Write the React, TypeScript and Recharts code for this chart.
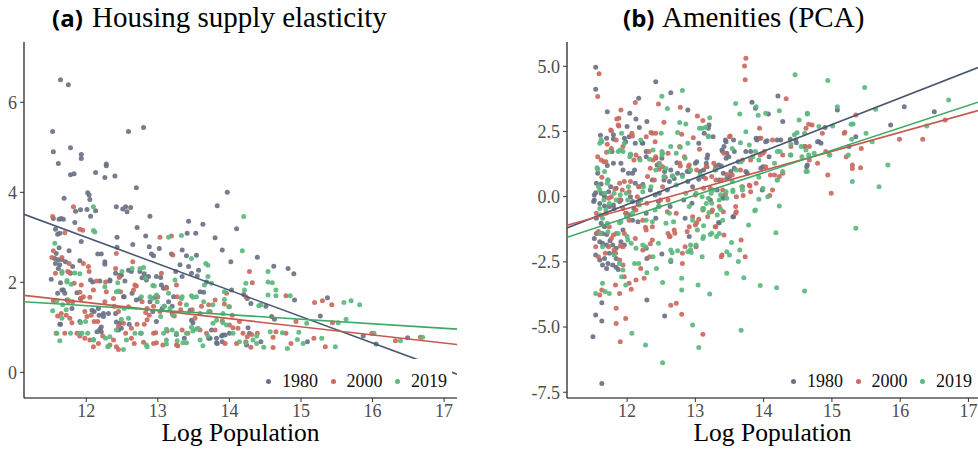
import { ScatterChart, Scatter, XAxis, YAxis, Legend } from 'recharts';

type Pt = [number, number];

// (a) Housing supply elasticity vs log population
const supply1980: Pt[] = [
  [11.64, 6.5], [11.75, 6.39], [11.53, 5.35], [12.8, 5.44], [12.59, 5.35], [11.54, 4.9], [11.78, 4.99], [11.61, 4.64],
  [11.93, 4.84], [11.93, 4.75], [12.28, 4.63], [12.28, 4.59], [12.13, 4.44], [11.78, 4.39], [11.83, 4.41], [12.26, 4.33],
  [12.4, 4.36], [12.7, 4.1], [12.02, 3.99], [12.04, 3.94], [12.05, 3.84], [11.69, 3.87], [13.97, 4.0], [13.83, 3.7],
  [12.42, 3.68], [12.51, 3.63], [12.55, 3.68], [12.62, 3.66], [12.57, 3.57], [11.85, 3.58], [11.92, 3.61], [12.01, 3.62],
  [12.13, 3.59], [12.06, 3.47], [12.89, 3.47], [11.84, 3.33], [11.54, 3.42], [11.62, 3.4], [11.68, 3.4], [11.65, 3.42],
  [11.57, 3.18], [11.6, 3.07], [11.63, 3.09], [12.71, 3.22], [13.43, 3.36], [13.63, 3.29], [13.53, 3.09], [13.41, 3.09],
  [14.1, 3.19], [13.8, 2.99], [12.83, 3.03], [12.43, 3.0], [11.93, 2.91], [11.62, 2.77], [11.76, 2.7], [12.16, 2.63],
  [12.21, 2.63], [12.65, 2.84], [12.43, 2.78], [12.88, 2.79], [13.02, 2.75], [13.34, 2.72], [13.9, 2.72], [13.19, 2.63],
  [12.91, 2.63], [12.94, 2.59], [13.4, 2.59], [13.54, 2.6], [14.39, 2.56], [14.02, 2.46], [11.58, 2.64], [11.56, 2.53],
  [11.61, 2.5], [11.66, 2.51], [11.71, 2.46], [11.57, 2.42], [11.63, 2.39], [11.61, 2.31], [11.81, 2.35], [11.78, 2.2],
  [11.51, 2.07], [12.26, 2.46], [12.26, 2.4], [11.91, 2.48], [13.43, 2.35], [13.31, 2.39], [13.57, 2.27], [13.47, 2.2],
  [13.55, 2.14], [13.34, 2.13], [13.25, 2.24], [14.62, 2.36], [14.82, 2.31], [14.9, 2.19], [13.68, 2.01], [13.59, 1.79],
  [13.64, 1.78], [12.41, 2.2], [12.49, 2.16], [12.54, 2.03], [12.59, 2.27], [12.75, 2.24], [12.78, 2.1], [12.81, 2.19],
  [12.84, 2.05], [12.87, 2.13], [12.98, 2.13], [13.04, 2.11], [13.05, 1.94], [13.12, 1.89], [12.06, 2.05], [12.09, 2.01],
  [12.19, 2.03], [12.33, 2.03], [11.64, 1.99], [11.66, 1.83], [11.6, 1.76], [11.7, 1.76], [11.87, 1.77], [11.92, 1.64],
  [11.73, 1.61], [12.64, 1.76], [12.75, 1.64], [12.53, 1.68], [14.03, 1.83], [14.25, 1.64], [14.3, 1.53], [14.2, 1.73],
  [14.51, 1.47], [14.91, 1.61], [15.37, 1.66], [15.27, 1.25], [14.59, 1.24], [14.63, 1.18], [13.2, 1.47], [13.15, 1.57],
  [12.93, 1.35], [13.06, 1.42], [12.31, 1.31], [12.11, 1.35], [12.18, 1.27], [12.24, 1.24], [12.41, 1.31], [11.91, 1.13],
  [11.64, 1.07], [13.47, 1.16], [13.49, 1.1], [13.75, 0.94], [13.82, 0.76], [14.26, 0.99], [14.28, 0.87], [13.91, 0.83],
  [14.0, 0.87], [13.71, 0.76], [13.83, 0.64], [13.9, 0.68], [14.44, 0.68], [14.24, 0.61], [15.09, 0.68], [15.87, 0.81],
  [16.05, 0.63], [16.49, 0.77], [12.19, 0.96], [12.21, 0.9], [12.47, 1.09], [12.6, 1.07], [12.45, 0.94], [12.76, 0.87],
  [12.98, 1.13], [13.37, 0.76], [12.21, 1.01], [12.15, 0.9], [11.63, 1.07], [12.42, 1.12], [12.49, 0.98], [12.7, 1.61],
  [12.52, 1.68], [12.96, 1.67], [13.08, 1.87], [12.89, 1.57], [13.22, 1.68], [13.26, 0.84], [13.82, 0.66], [13.89, 0.81],
  [13.94, 0.83], [13.73, 0.76], [13.45, 1.38], [12.17, 1.42], [12.24, 1.31], [12.84, 2.11], [12.47, 2.16], [12.63, 2.24],
  [11.8, 1.42], [12.08, 1.38], [12.33, 2.05], [11.68, 1.83],
];

const supply2000: Pt[] = [
  [11.53, 3.46], [11.82, 3.68], [11.7, 3.1], [11.91, 3.18], [11.95, 3.16], [11.54, 2.7], [11.52, 2.55], [11.66, 2.55],
  [11.76, 2.42], [11.57, 2.2], [11.74, 2.24], [11.77, 2.22], [11.96, 2.42], [12.03, 2.35], [12.04, 2.24], [12.14, 2.03],
  [11.83, 1.98], [11.93, 1.94], [11.91, 1.78], [11.96, 1.68], [12.05, 1.67], [11.93, 1.64], [12.1, 1.83], [11.54, 1.59],
  [11.81, 1.57], [11.75, 1.57], [11.65, 1.31], [11.6, 1.25], [11.72, 1.27], [11.98, 1.35], [12.07, 1.27], [12.01, 1.24],
  [11.8, 1.1], [12.11, 1.13], [12.16, 1.13], [11.77, 1.2], [11.58, 0.87], [11.7, 0.87], [11.91, 0.81], [11.98, 0.76],
  [12.05, 0.72], [12.1, 0.57], [11.87, 0.87], [12.42, 2.64], [12.41, 2.31], [12.46, 2.11], [12.27, 2.01], [12.48, 1.79],
  [12.38, 1.64], [12.28, 1.79], [12.26, 1.57], [12.39, 1.47], [12.45, 1.35], [12.59, 1.46], [12.65, 2.46], [12.68, 1.94],
  [12.7, 1.92], [12.66, 1.83], [12.78, 1.57], [12.85, 1.42], [12.83, 1.33], [12.88, 1.27], [13.03, 3.0], [13.19, 3.03],
  [13.05, 2.2], [13.21, 2.61], [13.26, 1.94], [13.27, 1.68], [13.12, 1.87], [13.0, 1.68], [12.94, 1.47], [13.03, 1.35],
  [13.09, 1.47], [13.2, 1.31], [13.23, 1.25], [13.31, 1.53], [13.32, 1.39], [13.48, 1.39], [13.52, 1.2], [13.59, 1.31],
  [13.71, 1.5], [13.8, 1.61], [13.73, 1.35], [13.93, 1.52], [14.0, 1.46], [14.04, 1.27], [13.96, 1.76], [14.23, 1.68],
  [14.28, 2.24], [14.32, 1.99], [14.14, 1.13], [14.12, 0.98], [14.05, 0.99], [14.19, 0.87], [14.31, 0.84], [14.39, 0.87],
  [14.25, 0.79], [14.23, 0.68], [14.3, 0.56], [14.1, 0.64], [12.45, 1.03], [12.52, 1.09], [12.63, 0.98], [12.71, 1.07],
  [12.81, 1.07], [12.85, 1.17], [12.97, 0.88], [13.13, 0.92], [13.34, 0.94], [13.42, 0.87], [12.38, 0.72], [12.33, 0.61],
  [12.42, 0.57], [12.45, 0.51], [12.55, 0.87], [12.63, 0.76], [12.67, 0.64], [12.8, 0.67], [12.94, 0.87], [12.94, 0.64],
  [13.07, 0.61], [13.26, 0.61], [13.59, 0.94], [13.68, 0.87], [13.8, 0.94], [13.9, 1.14], [14.0, 1.05], [12.23, 0.81],
  [12.17, 0.64], [14.61, 0.78], [14.65, 0.9], [14.61, 0.55], [14.79, 1.7], [14.79, 0.87], [14.93, 1.13], [15.19, 1.55],
  [15.3, 1.59], [15.43, 1.5], [15.44, 1.1], [15.18, 0.76], [15.34, 0.57], [14.86, 0.64], [15.99, 0.87], [16.32, 0.7],
  [16.67, 0.78], [12.98, 0.66], [13.28, 0.59], [13.94, 0.64], [13.61, 1.47],
];

const supply2019: Pt[] = [
  [12.1, 3.68], [12.1, 3.15], [12.12, 3.12], [14.2, 3.46], [13.33, 3.04], [13.15, 3.0], [14.18, 2.7], [13.47, 2.53],
  [13.67, 2.42], [13.7, 2.38], [12.8, 2.33], [12.64, 2.31], [14.54, 2.24], [14.6, 1.99], [14.54, 2.01], [14.65, 1.83],
  [14.54, 1.72], [14.65, 1.7], [14.85, 1.7], [14.23, 1.98], [14.21, 1.83], [14.44, 1.5], [14.41, 1.48], [15.6, 1.55],
  [15.7, 1.59], [15.82, 1.5], [15.63, 1.18], [15.52, 1.1], [15.08, 1.09], [14.97, 0.89], [14.95, 0.73], [15.03, 0.64],
  [15.29, 0.76], [15.48, 0.57], [16.02, 0.87], [16.39, 0.7], [16.7, 0.78], [14.81, 0.53], [14.74, 0.88], [14.57, 0.9],
  [14.48, 0.56], [11.56, 2.87], [11.66, 2.2], [11.73, 2.01], [11.79, 1.96], [11.91, 2.19], [11.53, 1.37], [11.59, 1.59],
  [11.67, 1.5], [11.75, 1.61], [11.72, 1.39], [11.66, 1.2], [11.92, 1.1], [11.99, 1.13], [11.59, 0.87], [11.63, 0.7],
  [11.78, 0.87], [11.94, 0.87], [12.02, 0.87], [12.1, 0.72], [12.27, 0.76], [12.3, 0.57], [12.33, 0.79], [12.42, 1.79],
  [12.44, 1.99], [12.5, 2.24], [12.53, 1.42], [12.59, 1.2], [12.49, 1.18], [12.42, 0.94], [12.52, 0.51], [12.56, 0.72],
  [12.68, 0.87], [12.77, 0.87], [12.85, 0.57], [12.77, 1.68], [12.83, 2.09], [12.93, 1.93], [12.98, 1.72], [12.92, 1.64],
  [12.99, 1.57], [13.09, 1.47], [13.17, 1.42], [13.04, 1.24], [13.21, 1.27], [13.34, 1.68], [13.4, 1.5], [13.47, 1.7],
  [13.54, 1.68], [13.65, 1.94], [13.7, 2.13], [13.64, 1.57], [13.77, 1.5], [13.71, 1.35], [13.93, 1.62], [13.91, 1.31],
  [13.99, 1.46], [13.82, 1.16], [13.77, 1.09], [13.91, 1.1], [13.96, 1.05], [14.05, 0.87], [13.47, 1.0], [13.53, 0.96],
  [13.56, 0.98], [13.4, 0.87], [13.26, 0.87], [13.12, 0.96], [13.2, 0.94], [13.08, 0.87], [13.12, 0.72], [13.63, 0.59],
  [13.35, 0.66], [13.27, 0.7], [13.59, 0.72], [13.7, 0.81], [14.14, 0.68], [14.33, 0.72], [14.38, 0.64], [14.23, 0.66],
  [14.38, 0.81], [11.73, 2.04], [11.66, 2.24], [11.84, 2.21], [12.26, 1.9], [12.45, 1.81], [12.75, 2.31], [12.89, 1.68],
  [12.95, 1.92], [13.24, 2.05], [13.15, 1.76], [13.49, 1.67], [13.75, 1.98], [13.93, 1.79], [13.33, 1.64], [11.91, 0.87],
  [12.1, 0.73], [12.31, 0.58], [12.84, 0.61], [13.12, 0.63], [13.4, 0.66], [13.49, 0.92],
];

// (b) Amenities (PCA) vs log population
const amen1980: Pt[] = [
  [11.54, 4.96], [11.54, 4.12], [11.5, -5.37], [11.54, -4.54], [11.63, -4.77], [11.63, -7.16], [11.63, -4.07], [12.42, 4.41],
  [12.64, 3.98], [12.17, 3.77], [11.71, 3.26], [12.04, 3.2], [12.13, 2.98], [12.89, 3.32], [12.18, 2.65], [12.0, 2.69],
  [11.61, 2.35], [11.7, 2.24], [11.8, 2.37], [11.98, 2.11], [12.03, 2.3], [12.23, 2.05], [12.28, 1.73], [12.28, 1.53],
  [11.91, 1.28], [11.8, 1.28], [11.71, 1.19], [12.02, 0.9], [12.08, 0.9], [12.11, 1.02], [12.12, 0.51], [12.23, 0.47],
  [11.94, 1.02], [11.57, 0.9], [11.72, 0.64], [11.55, 0.51], [11.62, 0.49], [11.52, 0.06], [11.62, 0.13], [11.67, 0.0],
  [11.73, 0.19], [11.76, 0.38], [11.84, 0.32], [11.91, -0.13], [11.51, -0.19], [11.6, -0.26], [11.67, -0.36], [11.74, -0.38],
  [11.81, -0.45], [11.89, -0.19], [12.08, -0.19], [12.16, -0.26], [12.19, -0.13], [12.28, -0.64], [12.08, -0.9], [12.16, -0.96],
  [12.03, -0.7], [11.98, -0.64], [11.55, -0.83], [11.62, -1.02], [11.67, -1.15], [11.55, -1.41], [11.64, -1.41], [11.7, -1.45],
  [11.52, -1.6], [11.6, -1.73], [11.64, -1.79], [11.7, -1.85], [11.75, -1.69], [11.79, -1.85], [11.84, -1.98], [11.81, -2.17],
  [11.74, -2.17], [11.54, -2.24], [11.6, -2.43], [11.67, -2.37], [11.72, -2.56], [11.64, -2.62], [11.79, -2.62], [11.84, -2.71],
  [11.87, -2.79], [11.7, -2.75], [11.84, -2.37], [11.91, -1.73], [11.94, -1.28], [11.96, -1.85], [12.29, -2.37], [12.28, -1.98],
  [12.29, -3.96], [12.55, -4.58], [12.51, -2.2], [12.64, -2.49], [12.91, -1.53], [12.85, -0.83], [12.42, -0.83], [12.41, 0.06],
  [12.47, 0.13], [12.44, 1.21], [12.55, 0.96], [12.64, 1.02], [12.54, 0.64], [12.62, 0.58], [12.69, 0.7], [12.74, 0.9],
  [12.81, 0.83], [12.89, 0.58], [12.91, 0.96], [12.96, 0.38], [13.0, 1.28], [13.07, 0.96], [13.11, 0.77], [13.16, 1.28],
  [13.18, 1.6], [13.05, 2.05], [13.2, 2.75], [13.19, 2.62], [13.26, 2.3], [13.13, 2.43], [13.3, 1.15], [13.38, 1.18],
  [13.4, 1.73], [13.42, 1.92], [13.45, 2.11], [13.49, 1.53], [13.45, 1.47], [13.35, 0.64], [13.4, 0.0], [13.5, 0.77],
  [13.52, 0.96], [13.57, 1.09], [13.35, -1.0], [13.55, -0.77], [13.74, 0.96], [13.81, 1.73], [13.83, 3.62], [13.89, 2.24],
  [13.94, 2.24], [14.03, 2.11], [14.08, 1.53], [13.99, 1.15], [14.2, 2.17], [14.25, 2.17], [14.21, 3.86], [14.28, 2.88],
  [14.47, 2.17], [14.6, 1.92], [14.63, 1.15], [14.79, 2.11], [14.84, 2.05], [15.08, 3.32], [15.35, 2.3], [15.25, 1.92],
  [15.86, 2.75], [16.06, 3.45], [16.5, 3.26], [13.74, 1.73], [13.57, 1.73], [12.29, 2.88], [11.8, 2.21], [11.96, 2.24],
  [12.12, 2.05], [12.22, 2.07], [11.78, 1.73], [12.42, 1.47], [12.51, 1.47], [12.37, 0.64], [12.59, 0.26], [12.73, 1.3],
  [12.88, 0.96], [13.02, 1.34], [13.12, 1.02], [13.39, 1.79], [13.46, 1.66], [13.34, 1.21], [13.17, 1.47], [11.52, -0.13],
  [11.66, 0.07], [11.54, 0.15], [11.8, -0.32], [11.88, -0.13], [12.05, 0.0], [12.1, -0.45], [12.17, 0.38], [12.34, 0.26],
  [12.46, -0.19], [12.63, -0.38], [12.83, -0.13], [13.22, -0.13], [13.32, 0.26], [13.41, 0.9], [13.88, 3.39], [14.07, 3.17],
  [14.9, 2.65], [14.81, 2.11], [14.39, 2.2], [14.48, 2.07], [14.05, 2.14], [13.9, 2.17], [13.56, 2.17], [13.44, 2.17],
  [13.17, 1.15], [13.29, 1.02], [13.63, 1.34], [13.76, 0.9], [13.96, 1.09], [14.64, 1.21], [13.46, 0.7], [13.41, -0.06],
  [13.98, 0.26], [13.56, -0.77], [13.34, -1.0], [12.95, -0.25], [13.05, 0.67],
];

const amen2000: Pt[] = [
  [11.59, 4.71], [11.57, 3.84], [13.72, 5.01], [13.74, 5.31], [13.73, 4.48], [12.78, 3.43], [14.33, 3.75], [12.12, 3.61],
  [11.91, 3.32], [11.85, 2.98], [11.76, 2.56], [11.88, 2.71], [12.08, 2.33], [12.35, 2.46], [12.42, 2.43], [12.28, 2.3],
  [12.54, 2.85], [13.03, 3.09], [13.11, 2.92], [12.8, 2.39], [11.71, 2.01], [11.57, 1.53], [11.62, 1.41], [11.69, 1.34],
  [11.7, 1.7], [11.77, 1.85], [11.84, 2.17], [11.94, 1.92], [12.13, 1.6], [12.18, 1.47], [12.32, 1.73], [12.38, 1.41],
  [12.42, 1.53], [12.47, 1.28], [12.52, 1.15], [12.6, 1.66], [12.77, 1.28], [12.84, 1.53], [12.91, 1.21], [13.02, 1.02],
  [13.16, 1.15], [13.42, 1.66], [13.5, 2.3], [13.69, 1.41], [13.94, 2.62], [13.96, 2.24], [13.99, 1.66], [14.13, 2.17],
  [14.28, 1.6], [14.4, 1.92], [14.62, 2.62], [14.67, 1.92], [14.71, 2.75], [14.79, 1.28], [14.86, 2.43], [14.91, 1.73],
  [14.94, 0.83], [14.99, 0.13], [15.18, 2.43], [15.21, 1.53], [15.3, 1.21], [15.3, 1.08], [15.42, 1.11], [15.43, 1.85],
  [15.35, 3.13], [15.99, 2.2], [16.33, 2.2], [16.66, 2.94], [14.01, 1.73], [14.03, 1.15], [14.16, 0.83], [14.23, 0.77],
  [14.28, 0.9], [14.13, 0.26], [13.89, 0.51], [13.79, 0.45], [13.69, 0.38], [13.6, 0.0], [13.6, -0.58], [13.59, -0.64],
  [13.4, 0.26], [13.3, 0.64], [13.35, -0.38], [13.25, -0.51], [13.3, -1.15], [13.18, -0.77], [13.11, -0.51], [12.96, -0.77],
  [12.91, -1.15], [13.01, -1.92], [12.72, -0.64], [12.69, -1.28], [12.62, -1.53], [12.6, -1.41], [12.81, -2.17], [12.81, -2.56],
  [13.38, -2.3], [13.67, -1.66], [13.73, -2.3], [12.33, -2.3], [12.37, -1.66], [12.23, -2.05], [12.2, -2.75], [12.25, -3.13],
  [12.13, -3.2], [12.03, -3.32], [12.06, -3.55], [11.96, -3.07], [11.89, -3.71], [11.83, -3.39], [11.6, -3.77], [11.63, -3.58],
  [11.84, -4.28], [11.84, -4.86], [11.98, -4.67], [11.9, -5.56], [12.64, -4.16], [12.72, -4.09], [12.8, -4.51], [13.11, -5.28],
  [11.94, -0.45], [11.99, -0.64], [12.03, -0.9], [12.13, -0.51], [12.23, -0.9], [12.28, -1.28], [11.96, -1.41], [11.94, -1.92],
  [11.84, -1.41], [11.77, -1.6], [11.74, -1.15], [11.69, -0.64], [11.77, 0.0], [11.89, 0.51], [11.96, 0.58], [12.03, 0.19],
  [12.18, 0.38], [12.3, 0.77], [12.4, 0.64], [12.52, 0.38], [12.6, -0.13], [12.47, -0.38], [12.77, 1.92], [11.55, -0.64],
  [11.57, -1.41], [11.54, -1.92], [11.81, -2.05], [11.68, -2.17], [11.89, -2.43], [11.94, -2.62], [12.46, 3.55], [11.88, 3.01],
  [11.87, 2.75], [11.77, 2.53], [12.37, 2.43], [12.41, 2.11], [12.07, 2.43], [12.97, 2.26], [13.06, 1.82], [11.66, 1.34],
  [11.63, 0.74], [12.05, 1.6], [12.1, 1.41], [12.34, 1.09], [12.47, 1.05], [12.56, 0.74], [12.78, 1.18], [12.9, 1.15],
  [13.15, 0.7], [13.22, 0.32], [13.3, 1.09], [13.39, 0.64], [13.46, 0.85], [13.44, 0.08], [12.05, 0.58], [11.93, 0.26],
  [11.82, 0.3], [11.73, -0.06], [11.9, -0.13], [12.15, 0.0], [12.29, -0.25], [12.49, -0.13], [12.59, -0.58], [12.37, -1.15],
  [12.27, -1.17], [12.63, -1.53], [12.7, -1.4], [12.88, -1.34], [13.02, -1.0], [13.42, -1.47], [13.39, -2.24], [12.85, -1.92],
  [12.34, -1.81], [12.12, -1.6], [11.8, -1.47], [11.58, -1.34], [11.73, -1.92], [11.9, -1.89], [11.83, -2.17], [11.58, -2.3],
  [13.51, 2.33], [14.66, 2.78], [15.19, 2.47], [14.61, 1.92], [14.67, 1.41], [14.1, 0.83], [13.95, 1.6], [13.81, 1.41],
  [13.66, 1.02], [13.54, 0.83], [13.27, 1.28], [13.24, 0.77], [13.12, 0.32], [13.0, 0.06], [13.24, -0.58], [13.41, -0.58],
  [13.8, 0.41], [13.81, 0.19], [14.09, 0.04], [13.7, 0.04], [13.59, -0.38], [13.05, -0.87], [13.0, -1.09], [13.29, -1.15],
  [13.01, -1.89],
];

const amen2019: Pt[] = [
  [14.46, 4.67], [14.94, 4.45], [15.48, 4.19], [12.81, 4.07], [12.51, 3.85], [12.59, 3.38], [13.59, 3.57], [13.65, 3.17],
  [13.89, 3.45], [13.92, 3.12], [14.03, 3.2], [14.64, 3.2], [14.52, 2.94], [14.23, 3.29], [15.08, 3.45], [15.64, 3.35],
  [16.71, 3.71], [13.21, 3.03], [13.06, 2.62], [13.19, 2.33], [12.77, 2.84], [12.86, 2.79], [12.74, 2.46], [12.5, 2.43],
  [12.51, 1.73], [12.38, 1.79], [12.2, 2.17], [12.04, 1.53], [11.94, 1.73], [11.87, 1.73], [11.96, 2.05], [11.74, 1.73],
  [11.63, 2.11], [11.6, 2.05], [11.57, 1.05], [11.67, 0.96], [11.72, 0.64], [11.6, 0.26], [11.67, 0.13], [11.81, 0.13],
  [11.84, -0.13], [11.69, -0.51], [11.64, -0.83], [11.61, -1.41], [11.64, -1.92], [11.54, -3.71], [11.64, -3.32], [11.68, -3.64],
  [11.74, -3.71], [11.81, -2.24], [11.89, -2.56], [11.94, -2.81], [11.92, -3.07], [11.98, -3.39], [12.07, -5.24], [12.27, -5.69],
  [12.52, -6.37], [12.96, -4.92], [13.05, -5.78], [13.04, -3.39], [13.21, -3.73], [12.8, -3.13], [12.8, -3.58], [12.52, -3.29],
  [12.43, -2.75], [12.38, -2.3], [12.29, -2.92], [12.11, -2.56], [12.17, -2.56], [12.13, -1.98], [12.23, -1.85], [12.64, -2.05],
  [12.74, -2.07], [12.64, -2.43], [12.89, -2.11], [12.94, -2.14], [13.1, -2.3], [12.93, -1.85], [13.11, -1.6], [13.22, -1.45],
  [13.46, -2.11], [13.5, -2.24], [13.46, -2.94], [13.63, -2.49], [13.65, -2.05], [13.53, -1.76], [13.71, -3.11], [13.67, -5.12],
  [13.95, -3.41], [14.19, -3.49], [14.6, -3.62], [14.18, -1.38], [14.23, -0.36], [13.87, -0.54], [13.78, -1.09], [13.93, -0.1],
  [13.99, 0.32], [14.06, 0.0], [14.2, 0.64], [14.28, 0.96], [14.16, 1.28], [14.24, 1.73], [14.4, 1.6], [14.4, 2.02],
  [14.45, 2.37], [14.55, 1.92], [14.6, 2.43], [14.62, 1.79], [14.62, 0.96], [14.66, 1.6], [14.81, 2.69], [14.96, 1.6],
  [15.01, 2.71], [15.28, 2.78], [15.29, 2.2], [15.24, 1.6], [15.35, -1.21], [15.3, 0.58], [15.5, 2.43], [15.59, 2.11],
  [15.69, 0.38], [15.82, 1.21], [16.39, 2.71], [13.74, 2.49], [13.79, 1.98], [13.84, 1.53], [13.67, 1.34], [13.6, 1.02],
  [13.54, 0.58], [13.69, 0.26], [13.55, 0.19], [13.45, 0.19], [13.3, 1.02], [13.35, -0.13], [13.23, 0.13], [13.16, -0.26],
  [13.01, 0.13], [12.91, -0.38], [13.11, -0.45], [13.2, -0.61], [12.96, -0.9], [13.03, -1.28], [12.52, 1.66], [12.64, 1.92],
  [12.42, 1.02], [12.35, 0.38], [12.23, 0.19], [12.2, -0.13], [12.57, 1.08], [12.67, 0.79], [12.81, 0.77], [12.72, 0.45],
  [12.86, 0.13], [11.99, 0.13], [12.01, -0.13], [12.08, -0.64], [12.18, -0.32], [12.28, -0.9], [11.99, -0.77], [11.91, -0.96],
  [11.87, -1.41], [11.72, -1.35], [12.06, -1.79], [12.01, -1.66], [12.46, -0.38], [12.62, -0.64], [12.57, -1.02], [11.74, -0.26],
  [11.6, -0.45], [13.35, -1.41], [13.4, -0.9], [12.89, 2.05], [13.15, 2.66], [11.92, 2.43], [11.62, 2.17], [11.9, 1.79],
  [12.05, 1.64], [12.19, 1.41], [12.33, 1.43], [12.51, 1.6], [12.48, 1.22], [12.54, 0.77], [12.66, 0.79], [12.78, 1.89],
  [12.85, 1.47], [12.72, 1.66], [12.93, 1.02], [13.07, 0.83], [13.1, 0.0], [13.27, 0.26], [13.24, -0.25], [13.12, -1.53],
  [13.31, -1.53], [13.01, -1.85], [11.56, 1.11], [11.58, 0.38], [11.71, 0.51], [11.66, -0.13], [11.9, 0.07], [12.02, 0.38],
  [12.24, 0.38], [12.41, -0.51], [12.37, -0.96], [12.68, -0.96], [11.61, -0.7], [11.71, -1.02], [11.89, -1.0], [12.0, -1.53],
  [12.46, -1.79], [12.27, -1.92], [12.66, -2.15], [13.32, -0.7], [12.93, -2.04], [14.64, 3.17], [14.49, 2.45], [15.31, 2.79],
  [13.19, 2.3], [13.1, 2.62], [13.66, 2.07], [13.54, 1.85], [13.88, 1.73], [13.93, 1.41], [14.2, 1.73], [14.39, 1.6],
  [14.56, 1.53], [14.74, 1.66], [14.97, 1.6], [14.64, 0.96], [14.2, 0.64], [13.93, 0.74], [13.68, 0.38], [13.55, 0.26],
  [13.46, -0.06], [13.37, 0.07], [13.19, -0.06], [13.37, -0.48], [13.12, -0.45], [13.88, -0.51], [13.12, -1.12], [13.24, -1.4],
];

// fitted lines (endpoints)
const supplyFit1980: Pt[] = [[11.13, 3.51], [17.18, -0.04]];
const supplyFit2000: Pt[] = [[11.13, 1.71], [17.18, 0.62]];
const supplyFit2019: Pt[] = [[11.13, 1.57], [17.18, 0.96]];
const amenFit1980: Pt[] = [[11.12, -1.2], [17.14, 4.95]];
const amenFit2000: Pt[] = [[11.12, -1.1], [17.14, 3.3]];
const amenFit2019: Pt[] = [[11.12, -1.56], [17.14, 3.62]];

const years = ['1980', '2000', '2019'];
const xTicks = [12, 13, 14, 15, 16, 17];
const supplyTicks = [0, 2, 4, 6];
const amenTicks = [-7.5, -5, -2.5, 0, 2.5, 5];

const pointColors = ['#697284', '#cb6a5f', '#5bb87e'];
const lineColors = ['#4b5870', '#c45a4e', '#3fa864'];
const serif = '"Liberation Serif", "Times New Roman", serif';

const toPts = (arr: Pt[]) => arr.map(([x, y]) => ({ x, y }));

const dot = (color: string) => (props: any) => (
  <circle cx={props.cx} cy={props.cy} r={2.5} fill={color} fillOpacity={0.92} />
);

function LegendBox() {
  return (
    <div style={{ display: 'flex', alignItems: 'center', paddingTop: 12, paddingLeft: 4, lineHeight: '21px' }}>
      {years.map((yr, i) => (
        <div key={yr} style={{ display: 'flex', alignItems: 'center', marginRight: 12.5 }}>
          <span
            style={{ width: 5, height: 5, borderRadius: '50%', background: pointColors[i], marginRight: 11 }}
          />
          <span style={{ fontFamily: serif, fontSize: 18, color: '#111' }}>{yr}</span>
        </div>
      ))}
    </div>
  );
}

type PanelProps = {
  left: number;
  width: number;
  rightMargin: number;
  yAxisWidth: number;
  xDomain: [number, number];
  yDomain: [number, number];
  yTicks: number[];
  yFormat: (v: number) => string;
  series: Pt[][];
  fits: Pt[][];
  legendLeft: number;
  legendWidth: number;
};

function Panel(p: PanelProps) {
  const tick = { fontFamily: serif, fontSize: 18, fill: '#4d4d4d' };
  return (
    <div style={{ position: 'absolute', left: p.left, top: 0 }}>
      <ScatterChart width={p.width} height={450} margin={{ top: 42, right: p.rightMargin, bottom: 0, left: 0 }}>
        <XAxis
          type="number"
          dataKey="x"
          domain={p.xDomain}
          ticks={xTicks}
          interval={0}
          allowDataOverflow
          height={52}
          tickSize={4}
          tickMargin={2}
          tick={tick}
          axisLine={{ stroke: '#000', strokeWidth: 1.1 }}
          tickLine={{ stroke: '#333' }}
          label={{
            value: 'Log Population',
            position: 'insideBottom',
            offset: 9,
            style: { fontFamily: serif, fontSize: 25.5, fill: '#000' },
          }}
        />
        <YAxis
          type="number"
          dataKey="y"
          domain={p.yDomain}
          ticks={p.yTicks}
          interval={0}
          allowDataOverflow
          width={p.yAxisWidth}
          tickSize={4}
          tickMargin={3}
          tick={tick}
          tickFormatter={p.yFormat}
          axisLine={{ stroke: '#000', strokeWidth: 1.1 }}
          tickLine={{ stroke: '#333' }}
        />
        {p.series.map((s, i) => (
          <Scatter
            key={years[i]}
            name={years[i]}
            data={toPts(s)}
            fill={pointColors[i]}
            shape={dot(pointColors[i])}
            isAnimationActive={false}
          />
        ))}
        {p.fits.map((f, i) => (
          <Scatter
            key={'fit' + years[i]}
            data={toPts(f)}
            line={{ stroke: lineColors[i], strokeWidth: 1.6 }}
            shape={() => <g />}
            legendType="none"
            isAnimationActive={false}
          />
        ))}
        <Legend
          layout="vertical"
          verticalAlign="middle"
          align="center"
          content={() => <LegendBox />}
          wrapperStyle={{ left: p.legendLeft, top: 359, width: p.legendWidth, height: 38, background: '#fff' }}
        />
      </ScatterChart>
    </div>
  );
}

function Title({ left, tag, text }: { left: number; tag: string; text: string }) {
  return (
    <div style={{ position: 'absolute', left, top: 2.5, lineHeight: '28px', whiteSpace: 'nowrap', color: '#000' }}>
      <span style={{ fontFamily: '"Open Sans", sans-serif', fontWeight: 700, fontSize: 24 }}>{tag}</span>
      <span style={{ fontFamily: serif, fontSize: 29, marginLeft: 2 }}> {text}</span>
    </div>
  );
}

export default function App() {
  return (
    <div
      style={{ position: 'absolute', left: 0, top: 0, width: 978, height: 450, overflow: 'hidden', background: '#fff' }}
    >
      <Title left={52} tag="(a)" text="Housing supply elasticity" />
      <Title left={623} tag="(b)" text="Amenities (PCA)" />
      <Panel
        left={0}
        width={470}
        rightMargin={13}
        yAxisWidth={24}
        xDomain={[11.13, 17.18]}
        yDomain={[-0.57, 7.34]}
        yTicks={supplyTicks}
        yFormat={(v) => String(v)}
        series={[supply1980, supply2000, supply2019]}
        fits={[supplyFit1980, supplyFit2000, supplyFit2019]}
        legendLeft={262}
        legendWidth={190}
      />
      <Panel
        left={520}
        width={458}
        rightMargin={0}
        yAxisWidth={47}
        xDomain={[11.12, 17.14]}
        yDomain={[-7.72, 5.93]}
        yTicks={amenTicks}
        yFormat={(v) => v.toFixed(1)}
        series={[amen1980, amen2000, amen2019]}
        fits={[amenFit1980, amenFit2000, amenFit2019]}
        legendLeft={267}
        legendWidth={191}
      />
    </div>
  );
}
